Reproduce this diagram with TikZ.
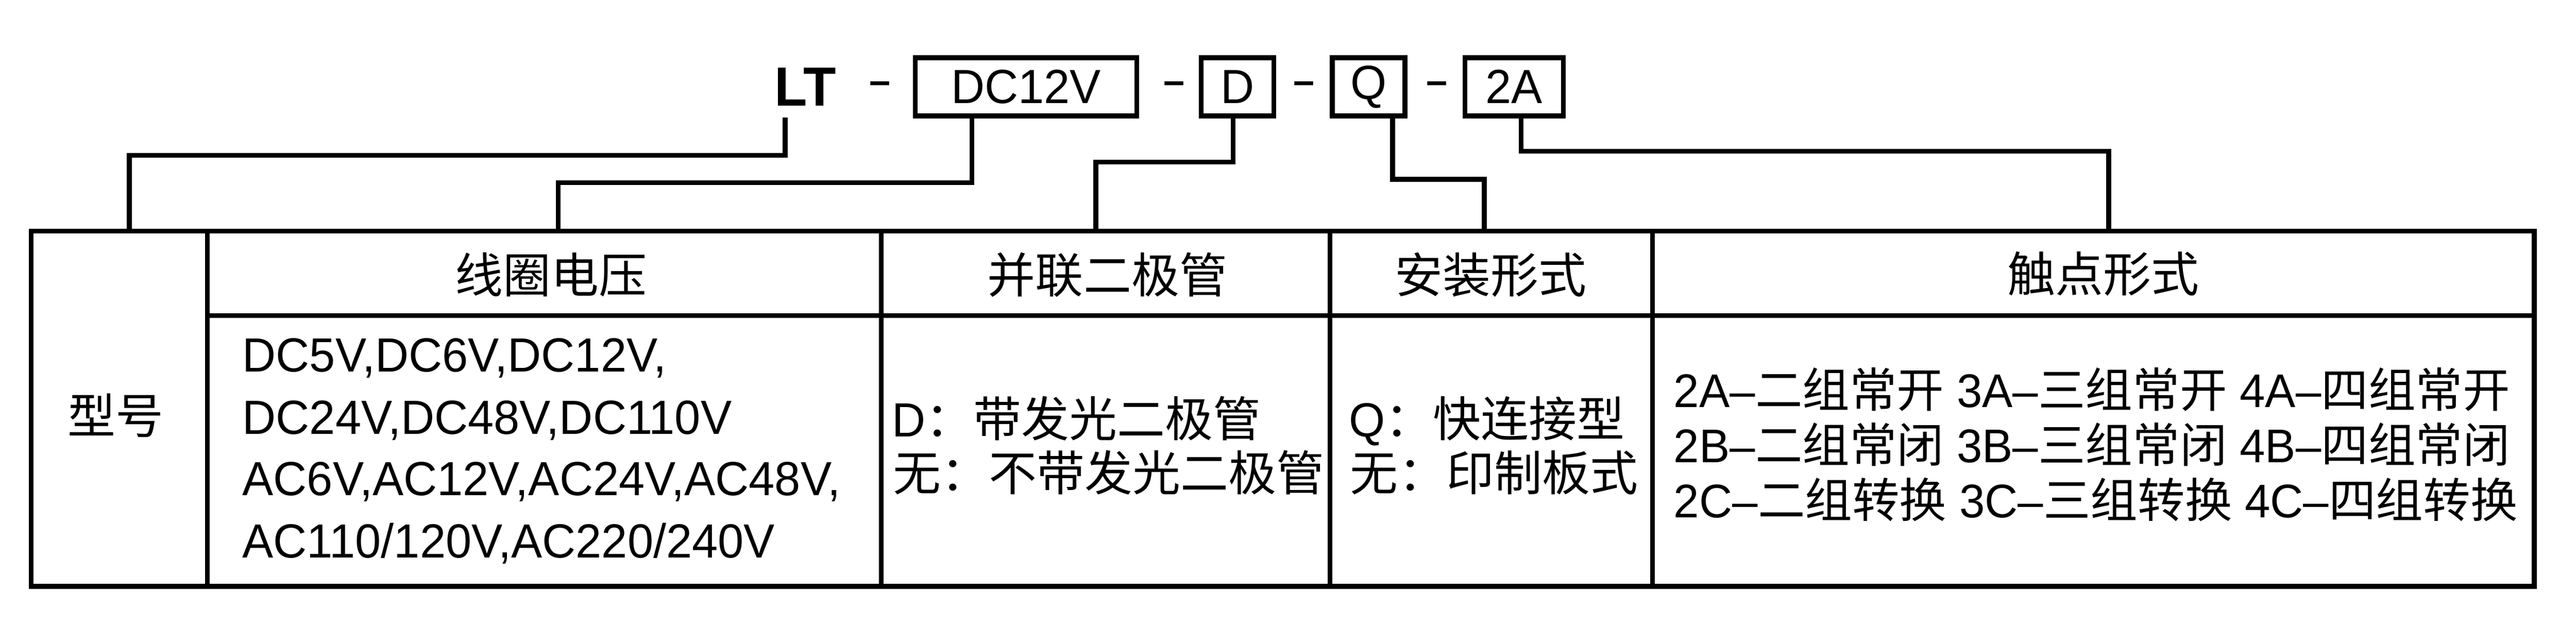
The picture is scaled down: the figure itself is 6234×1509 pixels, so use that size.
\documentclass[tikz,border=0pt]{standalone}
\usepackage{fontspec}
\setmainfont{Liberation Sans}[FakeStretch=0.97]
\newfontfamily\cjk{Noto Sans CJK SC}

\begin{document}
\begin{tikzpicture}[x=0.1mm,y=-0.1mm,line width=3.3pt,
  txt/.style={inner sep=0pt,font=\fontsize{33}{40}\selectfont},
  small/.style={inner sep=0pt,font=\fontsize{32.5}{40}\selectfont},
  code/.style={draw,inner sep=0pt,minimum height=14.1mm,font=\fontsize{33}{40}\selectfont},
  sep/.style={inner sep=0pt,font=\bfseries\fontsize{27}{30}\selectfont}]
\useasboundingbox (0,0) rectangle (6234,1509);
% model code
\node[inner sep=2.3mm,font=\bfseries\fontsize{38}{40}\selectfont] (lt) at (1949,210) {LT};
\node[sep] (s1) at (2130,213) {–};
\node[code,minimum width=53.6mm] (dc) at (2483,210) {DC12V};
\node[sep] (s2) at (2841,213) {–};
\node[code,minimum width=17.6mm] (d) at (2995,210) {D};
\node[sep] (s3) at (3156,213) {–};
\node[code,minimum width=17.6mm] (q) at (3312,210) {Q};
\node[sep] (s4) at (3477,213) {–};
\node[code,minimum width=23.8mm] (ca) at (3664,210) {2A};
% table
\draw (75,559) rectangle (6133,1419);
\draw (502,764) -- (6133,764);
\draw (502,559) -- (502,1419);
\draw (2133,559) -- (2133,1419);
\draw (3219,559) -- (3219,1419);
\draw (3999,559) -- (3999,1419);
\coordinate (in0) at (313,559);
\coordinate (in1) at (1351,559);
\coordinate (in2) at (2652,559);
\coordinate (in3) at (3592,559);
\coordinate (in4) at (5103,559);
% connectors
\draw (lt.south -| 1900,0) |- (in0 |- 0,376) -- (in0);
\draw (dc.south -| 2352,0) |- (in1 |- 0,442) -- (in1);
\draw (d.south -| 2984,0) |- (in2 |- 0,392) -- (in2);
\draw (q.south -| 3370,0) |- (in3 |- 0,434) -- (in3);
\draw (ca.south -| 3681,0) |- (in4 |- 0,366) -- (in4);
% headers
\node[txt] (typ) at (280,1005) {\cjk 型号};
\node[txt] (hv) at (1333,665) {\cjk 线圈电压};
\node[txt] (hd) at (2680,665) {\cjk 并联二极管};
\node[txt] (hm) at (3608,665) {\cjk 安装形式};
\node[txt] (hc) at (5090,662) {\cjk 触点形式};
% voltage
\node[txt,anchor=base west] (v1) at (581,900) {DC5V,DC6V,DC12V,};
\node[txt,anchor=base west] (v2) at (581,1050) {DC24V,DC48V,DC110V};
\node[txt,anchor=base west] (v3) at (581,1199) {AC6V,AC12V,AC24V,AC48V,};
\node[txt,anchor=base west] (v4) at (581,1350) {AC110/120V,AC220/240V};
% diode
\node[txt,anchor=base west] (d1) at (2153,1057) {D{\cjk ：带发光二极管}};
\node[txt,anchor=base west] (d2) at (2155,1187) {\cjk 无：不带发光二极管};
% mounting
\node[txt,anchor=base west] (m1) at (3259,1057) {Q{\cjk ：快连接型}};
\node[txt,anchor=base west] (m2) at (3262,1187) {\cjk 无：印制板式};
% contacts
\node[small,anchor=base west] (c1) at (4045,985) {2A–{\cjk 二组常开} 3A–{\cjk 三组常开} 4A–{\cjk 四组常开}};
\node[small,anchor=base west] (c2) at (4045,1119) {2B–{\cjk 二组常闭} 3B–{\cjk 三组常闭} 4B–{\cjk 四组常闭}};
\node[small,anchor=base west] (c3) at (4045,1252) {2C–{\cjk 二组转换} 3C–{\cjk 三组转换} 4C–{\cjk 四组转换}};
\end{tikzpicture}
\end{document}
